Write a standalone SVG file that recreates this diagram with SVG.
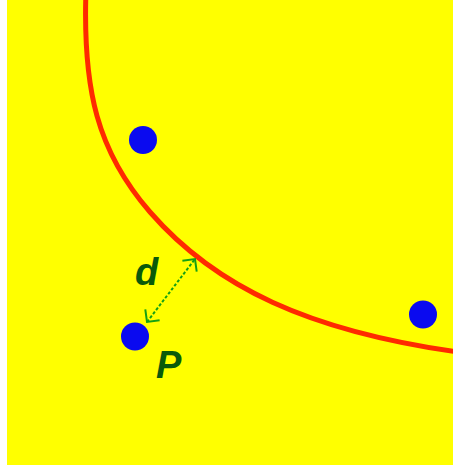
<svg xmlns="http://www.w3.org/2000/svg" width="453" height="466" viewBox="0 0 453 466">
  <style>
    .pt { fill: #0a0af0; }
    .lbl { font-family: "Liberation Sans", Arial, sans-serif; font-style: italic; font-weight: bold; font-size: 38px; fill: #0a5a0a; }
    .conn { stroke: #14a014; stroke-width: 2; fill: none; }
    .dash { stroke-dasharray: 3 2; }
  </style>
  <defs>
    <marker id="head" markerUnits="userSpaceOnUse" markerWidth="24" markerHeight="24" refX="0" refY="0" viewBox="-12 -12 24 24" orient="auto-start-reverse" overflow="visible">
      <path d="M -9,-9 L 0,0 L -9,9" fill="none" stroke="#14a014" stroke-width="2"/>
    </marker>
  </defs>
  <rect x="0" y="0" width="453" height="466" fill="#ffffff"/>
  <rect x="7" y="0" width="446" height="465" fill="#ffff00"/>
  <g id="curve">
    <path d="M 86,-10 C 82.5,90 97.5,151.6 150,212 C 215.6,287.5 309.5,331.1 458,352" fill="none" stroke="#ff2a00" stroke-width="5"/>
  </g>
  <g id="connectors">
    <line class="conn dash" x1="147" y1="322" x2="195" y2="259" marker-start="url(#head)" marker-end="url(#head)"/>
  </g>
  <g id="point-1">
    <circle class="pt" cx="143" cy="140" r="14"/>
  </g>
  <g id="point-P">
    <circle class="pt" cx="135" cy="336.5" r="14"/>
    <text class="lbl" x="156" y="378">P</text>
  </g>
  <g id="point-3">
    <circle class="pt" cx="423" cy="314.5" r="14"/>
  </g>
  <g id="label-d">
    <text class="lbl" x="135" y="285">d</text>
  </g>
</svg>
